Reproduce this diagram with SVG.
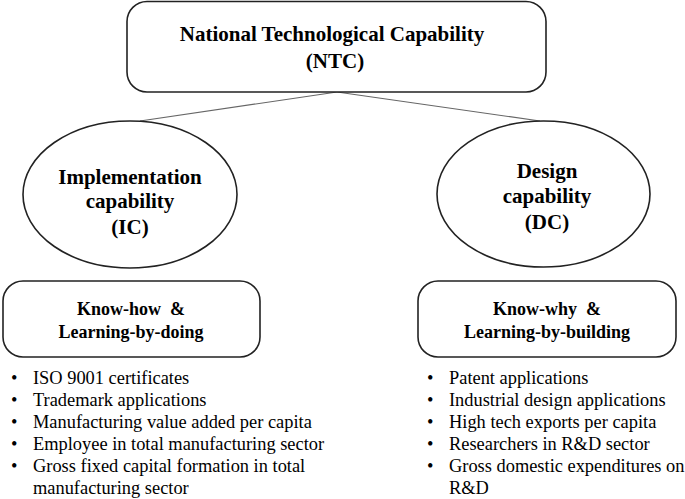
<svg xmlns="http://www.w3.org/2000/svg" width="685" height="499" viewBox="0 0 685 499">
<style>
.shape{fill:#fff;stroke:#222;stroke-width:1.6}
.conn{stroke:#666;stroke-width:1.1;fill:none}
.t{font-family:"Liberation Serif","Times New Roman",serif;fill:#000}
.b{font-weight:bold;text-anchor:middle}
.h1{font-size:21px}
.h2{font-size:21px}
.h3{font-size:18px}
.li{font-size:18.4px}
</style>
<rect width="685" height="499" fill="#fff"/>
<g id="connectors">
<line class="conn" x1="337" y1="92" x2="140" y2="121"/>
<line class="conn" x1="337" y1="92" x2="540" y2="121"/>
</g>
<g id="ntc">
<rect class="shape" x="127" y="1.5" width="419" height="90.5" rx="20"/>
<text class="t b h1" x="332" y="41">National Technological Capability</text>
<text class="t b h1" x="335" y="68">(NTC)</text>
</g>
<g id="ic">
<ellipse class="shape" cx="130" cy="194.5" rx="107" ry="73.5"/>
<text class="t b h2" x="130" y="184">Implementation</text>
<text class="t b h2" x="130" y="208">capability</text>
<text class="t b h2" x="130" y="234">(IC)</text>
</g>
<g id="dc">
<ellipse class="shape" cx="543.5" cy="194" rx="106.5" ry="73"/>
<text class="t b h2" x="547" y="178">Design</text>
<text class="t b h2" x="547" y="203">capability</text>
<text class="t b h2" x="547" y="229">(DC)</text>
</g>
<g id="knowhow">
<rect class="shape" x="3" y="281" width="257" height="76" rx="20"/>
<text class="t b h3" x="131" y="315" xml:space="preserve">Know-how  &amp;</text>
<text class="t b h3" x="131" y="338">Learning-by-doing</text>
</g>
<g id="knowwhy">
<rect class="shape" x="418" y="281" width="258" height="76" rx="20"/>
<text class="t b h3" x="547" y="315" xml:space="preserve">Know-why  &amp;</text>
<text class="t b h3" x="547" y="338">Learning-by-building</text>
</g>
<g id="ic-list" class="t li">
<text x="11" y="384">•</text><text x="33" y="384">ISO 9001 certificates</text>
<text x="11" y="406">•</text><text x="33" y="406">Trademark applications</text>
<text x="11" y="428">•</text><text x="33" y="428">Manufacturing value added per capita</text>
<text x="11" y="450">•</text><text x="33" y="450">Employee in total manufacturing sector</text>
<text x="11" y="472">•</text><text x="33" y="472">Gross fixed capital formation in total</text>
<text x="33" y="494">manufacturing sector</text>
</g>
<g id="dc-list" class="t li">
<text x="427" y="384">•</text><text x="449" y="384">Patent applications</text>
<text x="427" y="406">•</text><text x="449" y="406">Industrial design applications</text>
<text x="427" y="428">•</text><text x="449" y="428">High tech exports per capita</text>
<text x="427" y="450">•</text><text x="449" y="450">Researchers in R&amp;D sector</text>
<text x="427" y="472">•</text><text x="449" y="472">Gross domestic expenditures on</text>
<text x="449" y="494">R&amp;D</text>
</g>
</svg>
